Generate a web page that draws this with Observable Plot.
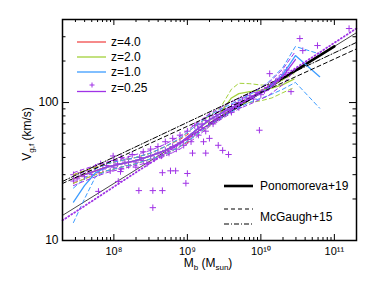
<!DOCTYPE html>
<html><head><meta charset="utf-8">
<script src="https://cdn.jsdelivr.net/npm/d3@7"></script>
<script src="https://cdn.jsdelivr.net/npm/@observablehq/plot@0.6"></script>
<style>body{margin:0;background:#fff;} svg{font-family:"Liberation Sans",Arial,sans-serif;}</style>
</head><body><div id="chart"></div>
<script>
// ---------- data (log10 of baryonic mass, velocity in km/s) ----------
const xDomain = [2e7, 2e11];
const yDomain = [10, 400];
const xMajorTicks = [1e8, 1e9, 1e10, 1e11];
const yMajorTicks = [10, 100];
const yMinorTicks = [20, 30, 40, 50, 60, 70, 80, 90, 200, 300];

const zLabels = ["z=4.0", "z=2.0", "z=1.0", "z=0.25"];
const zColors = ["#f24b4b", "#a3d13a", "#3d9cff", "#a033e6"];

const z4M   = [7.45, 7.6, 7.75, 7.9, 8.1, 8.3, 8.5, 8.7, 8.9, 9.05];
const z4Med = [28, 30, 32, 34, 36, 38, 41, 45, 51, 57];
const z4Lo  = [26, 28, 30, 32, 34, 36, 39, 42, 48, 53];
const z4Hi  = [30, 32, 34, 36, 38, 40, 43, 48, 54, 61];

const z2M   = [7.45, 7.6, 7.75, 7.9, 8.1, 8.3, 8.5, 8.7, 8.9, 9.1, 9.3, 9.45, 9.6, 9.7, 9.85, 10.0, 10.15, 10.3, 10.45];
const z2Med = [28, 30, 32, 34, 36, 38, 41, 45, 51, 62, 74, 84, 108, 116, 120, 123, 127, 135, 148];
const z2Lo  = [26, 28, 30, 32, 34, 36, 39, 42, 48, 57, 68, 78, 92, 98, 100, 103, 108, 118, 128];
const z2Hi  = [30, 32, 34, 36, 38, 40, 43, 48, 55, 67, 80, 92, 125, 138, 137, 134, 134, 146, 162];

const z1M   = [7.45, 7.6, 7.75, 7.9, 8.1, 8.3, 8.5, 8.7, 8.9, 9.1, 9.3, 9.5, 9.7, 9.9, 10.1, 10.3, 10.47, 10.8];
const z1Med = [19, 25, 31, 34, 36, 38, 41, 45, 51, 62, 75, 86, 98, 110, 126, 160, 219, 154];
const z1Lo  = [13.5, 20, 29, 32, 34, 36, 39, 42, 48, 57, 69, 80, 92, 103, 112, 125, 140, 91];
const z1Hi  = [24, 28, 33, 36, 38, 40, 43, 48, 55, 67, 81, 92, 104, 118, 140, 180, 255, 225];

const z025M   = [7.45, 7.6, 7.75, 7.9, 8.1, 8.3, 8.5, 8.7, 8.9, 9.1, 9.3, 9.5, 9.7, 9.9, 10.1, 10.3, 10.47];
const z025Med = [28, 30, 32, 34, 36, 38, 41, 45, 51, 62, 75, 86, 98, 110, 124, 155, 205];
const z025Lo  = [25, 27, 29, 31, 33, 35, 37, 41, 46, 55, 67, 78, 90, 100, 112, 135, 175];
const z025Hi  = [31, 33, 35, 37, 39, 42, 45, 50, 57, 69, 83, 95, 107, 120, 138, 175, 235];

// individual galaxies at z=0.25
const galM = [7.45,7.45,7.5,7.55,7.6,7.65,7.7,7.75,7.8,7.85,7.9,7.95,8.0,8.0,8.05,8.1,8.1,8.15,8.2,8.2,8.25,8.3,8.3,8.35,8.4,8.4,8.45,8.5,8.5,8.55,8.6,8.6,8.65,8.7,8.7,8.75,8.8,8.8,8.85,8.9,8.9,8.95,9.0,9.0,9.05,9.05,9.1,9.1,9.15,9.15,9.2,9.2,9.25,9.25,9.3,9.3,9.35,9.35,9.4,9.4,9.45,9.45,9.5,9.5,9.55,9.6,9.6,9.65,9.7,9.7,9.75,9.8,9.85,9.9,9.95,10.0,10.05,10.1,10.15,10.2,10.25,10.3,10.35,
  7.79,8.09,8.34,8.53,8.53,8.66,8.66,8.84,8.98,8.77,9.0,9.07,9.25,9.42,9.48,9.56,9.98,10.12,10.41,10.53,10.57,10.77,11.2,7.99,8.06,7.82,9.14,9.3,9.22];
const galV = [27,30,28,31,29,32,30,34,31,33,35,32,34,38,36,33,40,37,35,39,42,37,34,40,38,44,36,41,46,39,43,48,41,45,52,43,48,55,46,51,58,49,54,62,57,52,60,68,64,58,70,66,74,62,72,80,77,70,82,75,86,79,84,90,88,93,85,97,100,92,104,108,112,106,118,114,122,128,135,142,150,160,172,
  22.7,31.6,23,23,17.3,23,31,32,26,32,30.6,43,43,49,45,42,63,162,120,291,238,259,344,41,26.8,36,69,55,52];

// reference relations (end points)
const relM = [2e7, 2e11];
const pono19V = [15.2, 321];          // Ponomareva+19 (extrapolated, thin)
const pono19FitM = [2e9, 1e11];
const pono19FitV = [69.7, 255];       // Ponomareva+19 (fitted range, thick)
const mcg15aV = [25.9, 245];          // McGaugh+15 (dashed)
const mcg15bV = [26.8, 273];          // McGaugh+15 (dash-dot)
const z025FitV = [14, 345];           // z=0.25 fit (dotted)

// ---------- build ----------
const W = 374, H = 281, mL = 62, mR = 18, mT = 19, mB = 41;
const pxPerDecX = (W - mL - mR) / Math.log10(xDomain[1] / xDomain[0]);
const pxPerDecY = (H - mT - mB) / Math.log10(yDomain[1] / yDomain[0]);
const fx = px => 10 ** (px / pxPerDecX), fy = px => 10 ** (px / pxPerDecY);

const xMinorTicks = [];
for (let k = 7; k <= 11; k++) for (let j = 2; j <= 9; j++) {
  const v = j * 10 ** k; if (v > xDomain[0] && v < xDomain[1]) xMinorTicks.push(v);
}

const mk = (ms, med, lo, hi) => ms.map((m, i) => ({M: 10 ** m, med: med[i], lo: lo[i], hi: hi[i]}));
const zTables = [mk(z4M, z4Med, z4Lo, z4Hi), mk(z2M, z2Med, z2Lo, z2Hi), mk(z1M, z1Med, z1Lo, z1Hi), mk(z025M, z025Med, z025Lo, z025Hi)];
const gal = galM.map((m, i) => ({M: 10 ** m, V: galV[i]}));
const rel = (ms, vs) => ms.map((m, i) => ({M: m, V: vs[i]}));

const sup = {"0":"⁰","1":"¹","2":"²","3":"³","4":"⁴","5":"⁵","6":"⁶","7":"⁷","8":"⁸","9":"⁹"};
const powFmt = d => "10" + String(Math.round(Math.log10(d))).split("").map(c => sup[c]).join("");

const zMarks = [];
zTables.forEach((t, i) => {
  const c = zColors[i];
  zMarks.push(Plot.line(t, {x: "M", y: "lo", stroke: c, strokeWidth: 1, strokeDasharray: "4,3"}));
  zMarks.push(Plot.line(t, {x: "M", y: "hi", stroke: c, strokeWidth: 1, strokeDasharray: "4,3"}));
  zMarks.push(Plot.line(t, {x: "M", y: "med", stroke: c, strokeWidth: 1.3}));
});

const tickStyle = {stroke: "black", strokeWidth: 1};
const chart = Plot.plot({
  width: W, height: H, marginLeft: mL, marginRight: mR, marginTop: mT, marginBottom: mB,
  style: {fontFamily: "Liberation Sans, Arial, sans-serif", fontSize: "11px", background: "white", color: "black"},
  x: {type: "log", domain: xDomain},
  y: {type: "log", domain: yDomain},
  marks: [
    Plot.line(rel(relM, pono19V), {x: "M", y: "V", stroke: "#333", strokeWidth: 0.9}),
    Plot.line(rel(pono19FitM, pono19FitV), {x: "M", y: "V", stroke: "black", strokeWidth: 2.6}),
    Plot.dot(gal, {x: "M", y: "V", symbol: "plus", r: 2.2, stroke: zColors[3], strokeWidth: 1, clip: true}),
    ...zMarks,
    Plot.line(rel(relM, mcg15aV), {x: "M", y: "V", stroke: "black", strokeWidth: 1, strokeDasharray: "4,3"}),
    Plot.line(rel(relM, mcg15bV), {x: "M", y: "V", stroke: "black", strokeWidth: 1, strokeDasharray: "5,2,1,2"}),
    Plot.line(rel(relM, z025FitV), {x: "M", y: "V", stroke: zColors[3], strokeWidth: 1.8, strokeDasharray: "1,2.5"}),
    // inward ticks
    Plot.ruleX(xMajorTicks, {x: d => d, y1: yDomain[0], y2: yDomain[0] * fy(6), ...tickStyle}),
    Plot.ruleX(xMinorTicks, {x: d => d, y1: yDomain[0], y2: yDomain[0] * fy(3), ...tickStyle}),
    Plot.ruleX(xMajorTicks, {x: d => d, y1: yDomain[1], y2: yDomain[1] / fy(6), ...tickStyle}),
    Plot.ruleX(xMinorTicks, {x: d => d, y1: yDomain[1], y2: yDomain[1] / fy(3), ...tickStyle}),
    Plot.ruleY(yMajorTicks, {y: d => d, x1: xDomain[0], x2: xDomain[0] * fx(7), ...tickStyle}),
    Plot.ruleY(yMinorTicks, {y: d => d, x1: xDomain[0], x2: xDomain[0] * fx(3.5), ...tickStyle}),
    Plot.ruleY(yMajorTicks, {y: d => d, x1: xDomain[1], x2: xDomain[1] / fx(7), ...tickStyle}),
    Plot.ruleY(yMinorTicks, {y: d => d, x1: xDomain[1], x2: xDomain[1] / fx(3.5), ...tickStyle}),
    Plot.axisX({ticks: xMajorTicks, tickSize: 0, tickPadding: 7, tickFormat: powFmt, label: null, fontSize: 11}),
    Plot.axisY({ticks: yMajorTicks, tickSize: 0, tickPadding: 4, tickFormat: d => String(d), label: null, fontSize: 12}),
    Plot.frame({stroke: "black", strokeWidth: 1.5})
  ]
});
document.getElementById("chart").appendChild(chart);

// ---------- labels & legends ----------
const svg = d3.select(chart);
const ff = "Liberation Sans, Arial, sans-serif";
// y label
const yl = svg.append("text").attr("transform", "translate(31,134) rotate(-90)")
  .attr("text-anchor", "middle").attr("font-family", ff).attr("font-size", 12).attr("fill", "black");
yl.append("tspan").text("V");
yl.append("tspan").attr("font-size", 8).attr("dy", 3).text("g,f");
yl.append("tspan").attr("dy", -3).text(" (km/s)");
// x label
const xl = svg.append("text").attr("x", 208).attr("y", 267)
  .attr("text-anchor", "middle").attr("font-family", ff).attr("font-size", 12).attr("fill", "black");
xl.append("tspan").text("M");
xl.append("tspan").attr("font-size", 8).attr("dy", 3).text("b");
xl.append("tspan").attr("dy", -3).text(" (M");
xl.append("tspan").attr("font-size", 8).attr("dy", 3).text("sun");
xl.append("tspan").attr("dy", -3).text(")");

// redshift legend
const lg = svg.append("g").attr("font-family", ff).attr("font-size", 12).attr("text-anchor", "start").attr("fill", "black");
const lineY = [42, 57, 72, 91.5], textY = [42, 57, 72, 88];
zLabels.forEach((lab, i) => {
  lg.append("line").attr("x1", 77).attr("x2", 106).attr("y1", lineY[i]).attr("y2", lineY[i])
    .attr("stroke", zColors[i]).attr("stroke-width", 1.3);
  lg.append("text").attr("x", 111).attr("y", textY[i]).attr("dy", "0.35em").text(lab);
});
lg.append("path").attr("d", "M89.5,85h5M92,82.5v5").attr("stroke", zColors[3]).attr("stroke-width", 1);

// reference legend
const rg = svg.append("g").attr("font-family", ff).attr("font-size", 12).attr("text-anchor", "start").attr("fill", "black");
rg.append("line").attr("x1", 224).attr("x2", 253).attr("y1", 186).attr("y2", 186).attr("stroke", "black").attr("stroke-width", 2.6);
rg.append("text").attr("x", 260).attr("y", 186).attr("dy", "0.35em").text("Ponomoreva+19");
rg.append("line").attr("x1", 224).attr("x2", 253).attr("y1", 209).attr("y2", 209).attr("stroke", "black").attr("stroke-dasharray", "4,3");
rg.append("line").attr("x1", 224).attr("x2", 253).attr("y1", 224).attr("y2", 224).attr("stroke", "black").attr("stroke-dasharray", "5,2,1,2");
rg.append("text").attr("x", 260).attr("y", 217).attr("dy", "0.35em").text("McGaugh+15");
</script></body></html>
